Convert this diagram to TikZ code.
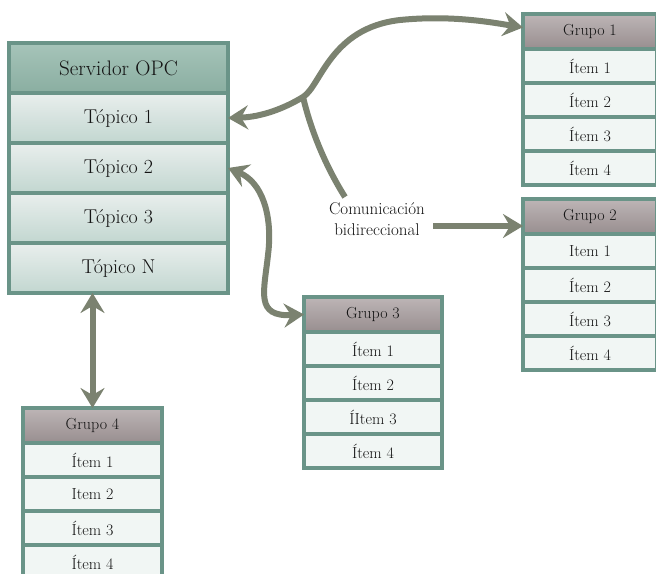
\documentclass[tikz,border=0pt]{standalone}
\usetikzlibrary{arrows.meta}
\definecolor{bordc}{HTML}{6A9488}
\definecolor{srvtop}{HTML}{A6C4B9}
\definecolor{srvbot}{HTML}{8AAEA1}
\definecolor{rowtop}{HTML}{E9EFED}
\definecolor{rowbot}{HTML}{C2D6D0}
\definecolor{ghtop}{HTML}{BDB5B6}
\definecolor{ghbot}{HTML}{988E8F}
\definecolor{growc}{HTML}{F1F6F4}
\definecolor{arrc}{HTML}{7B8270}
\definecolor{txtc}{HTML}{141414}
\tikzset{
  bigtip/.tip={Stealth[length=20pt,width=24pt,inset=7pt]},
  box/.style={draw=bordc, line width=3.2pt, outer sep=0pt, inner sep=0pt, text=txtc},
  shead/.style={box, top color=srvtop, bottom color=srvbot, minimum width=219pt, minimum height=50pt, font=\fontsize{21}{24}\selectfont},
  srow/.style={box, top color=rowtop, bottom color=rowbot, minimum width=219pt, minimum height=50pt, font=\fontsize{20}{24}\selectfont},
  ghead/.style={box, top color=ghtop, bottom color=ghbot, minimum height=35pt, font=\fontsize{16}{18}\selectfont},
  grprow/.style={box, fill=growc, minimum height=34pt, font=\fontsize{16}{18}\selectfont},
  arr/.style={draw=arrc, line width=6pt},
}
\newcommand\mkgroup[9]{%
  \node[ghead, minimum width=#4, anchor=north west] (#1h) at (#2,#3) {#5};
  \node[grprow, minimum width=#4, anchor=north] (#1a) at (#1h.south) {#6};
  \node[grprow, minimum width=#4, anchor=north] (#1b) at (#1a.south) {#7};
  \node[grprow, minimum width=#4, anchor=north] (#1c) at (#1b.south) {#8};
  \node[grprow, minimum width=#4, anchor=north] (#1d) at (#1c.south) {#9};
}
\begin{document}
\begin{tikzpicture}[x=1pt,y=-1pt]
\clip (0,0) rectangle (656,573);
\fill[white] (0,0) rectangle (656,573);

% server
\node[shead, anchor=north west] (srv) at (9,43) {Servidor OPC};
\node[srow, anchor=north] (t1) at (srv.south) {Tópico 1};
\node[srow, anchor=north] (t2) at (t1.south) {Tópico 2};
\node[srow, anchor=north] (t3) at (t2.south) {Tópico 3};
\node[srow, anchor=north] (tN) at (t3.south) {Tópico N};

% groups
\mkgroup{ga}{523}{14}{134pt}{Grupo 1}{Ítem 1}{Ítem 2}{Ítem 3}{Ítem 4}
\mkgroup{gb}{523}{199}{134pt}{Grupo 2}{Item 1}{Ítem 2}{Ítem 3}{Ítem 4}
\mkgroup{gc}{304}{297}{138pt}{Grupo 3}{Ítem 1}{Ítem 2}{ÍItem 3}{Ítem 4}
\mkgroup{gd}{23}{408}{139pt}{Grupo 4}{Ítem 1}{Item 2}{Ítem 3}{Ítem 4}

% label
\node[text=txtc, align=center, font=\fontsize{17}{21}\selectfont] (lbl) at (377,219) {Comunicación\\bidireccional};

\coordinate (brk) at (303,97);
\coordinate (lblend) at (345,197);
\coordinate (a2s) at (433,226);

% arrow 1 (Tópico 1 <-> Grupo 1)
\draw[arr, bigtip-bigtip] (t1.east) .. controls (262,117) and (285,108) .. (brk)
  .. controls (321,86) and (330,28) .. (400,20)
  .. controls (450,15) and (490,22) .. ([yshift=4pt]gah.west);
% branch to label
\draw[arr] (brk) .. controls (312,135) and (328,170) .. (lblend);
% arrow 2 (label -> Grupo 2)
\draw[arr, -bigtip] (a2s) -- (gbh.west |- a2s);
% arrow 3 (Tópico 2 <-> Grupo 3)
\draw[arr, bigtip-bigtip] (t2.east) .. controls (262,182) and (273,215) .. (268,255)
  .. controls (264,292) and (255,317) .. (gch.west);
% arrow 4 (Tópico N <-> Grupo 4)
\draw[arr, bigtip-bigtip] (tN.south -| gdh.north) -- (gdh.north);
\end{tikzpicture}
\end{document}
